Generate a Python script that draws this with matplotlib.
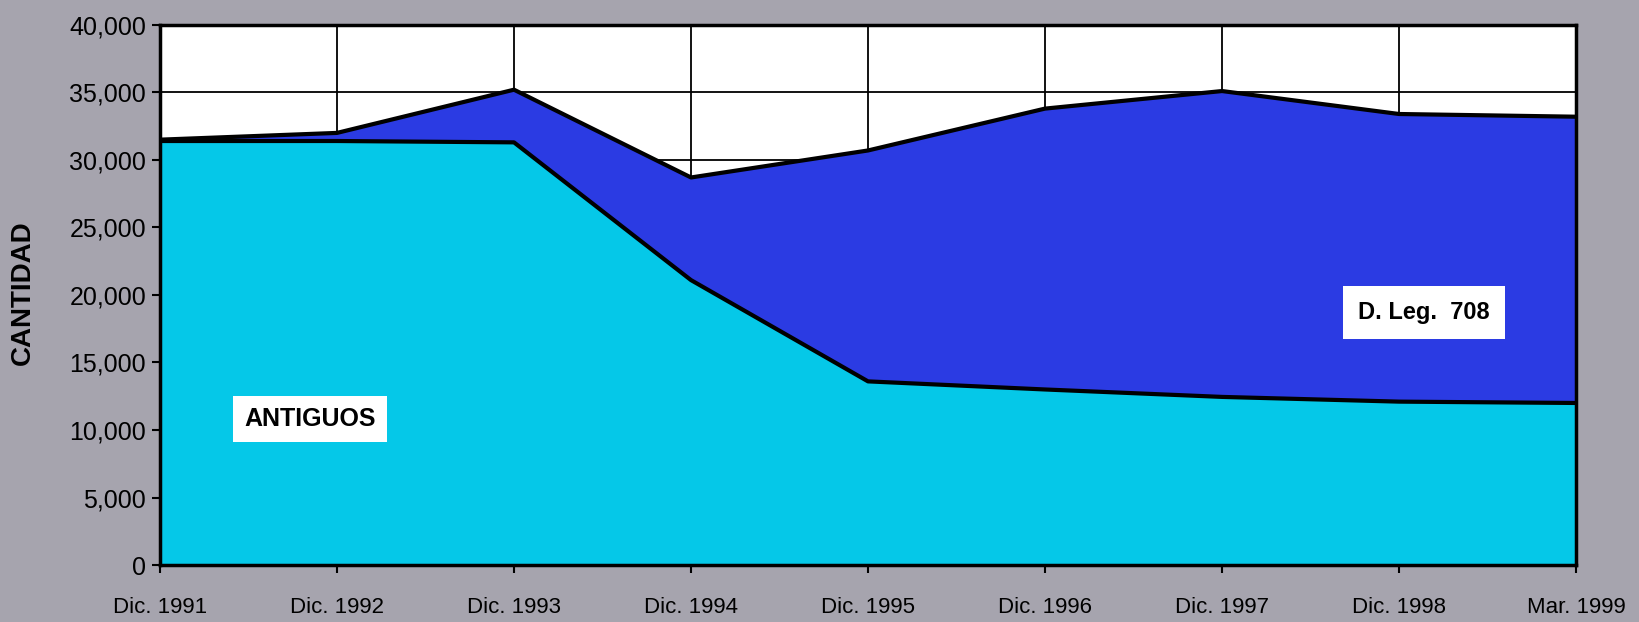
import matplotlib
matplotlib.use("Agg")
import matplotlib.pyplot as plt
import numpy as np

categories = ["Dic. 1991", "Dic. 1992", "Dic. 1993", "Dic. 1994", "Dic. 1995",
              "Dic. 1996", "Dic. 1997", "Dic. 1998", "Mar. 1999"]
antiguos = [31400, 31400, 31300, 21100, 13600, 13000, 12450, 12100, 12000]
dleg708 = [100, 600, 3900, 7600, 17100, 20800, 22650, 21300, 21200]
yticks = [0, 5000, 10000, 15000, 20000, 25000, 30000, 35000, 40000]

plt.rcParams['font.family'] = ['Liberation Sans', 'DejaVu Sans']

fig = plt.figure(figsize=(16.39, 6.22), dpi=100)
fig.patch.set_facecolor('#A6A4AE')
ax = fig.add_axes([0.0976, 0.0916, 0.8640, 0.8684])
ax.set_facecolor('white')

x = np.arange(len(categories))
total = np.array(antiguos) + np.array(dleg708)

ax.stackplot(x, antiguos, dleg708, colors=['#05C8E8', '#2B3BE3'], zorder=2)
ax.plot(x, antiguos, color='black', lw=3, zorder=3)
ax.plot(x, total, color='black', lw=3, zorder=3)

ax.set_xlim(0, len(categories) - 1)
ax.set_ylim(0, 40000)
ax.set_xticks(x)
ax.set_xticklabels(categories)
ax.set_yticks(yticks)
ax.set_yticklabels([f"{v:,}" for v in yticks])
ax.grid(True, color='black', lw=1.3, zorder=1)
ax.set_axisbelow(True)

for s in ax.spines.values():
    s.set_linewidth(2.5)
    s.set_color('black')
    s.set_zorder(4)

ax.tick_params(axis='both', direction='out', length=6, width=1.5, colors='black')
ax.tick_params(axis='x', pad=17, labelsize=16)
ax.tick_params(axis='y', pad=4, labelsize=18)

fig.text(0.014, 0.529, "CANTIDAD", fontsize=20, fontweight='bold', rotation=90,
         ha='center', va='center')

ax.text(0.85, 10800, "ANTIGUOS", fontsize=18, fontweight='bold', ha='center',
        va='center', zorder=5,
        bbox=dict(boxstyle='square,pad=0.45', facecolor='white', edgecolor='none'))
ax.text(7.14, 18700, "D. Leg.  708", fontsize=17, fontweight='bold', ha='center',
        va='center', zorder=5,
        bbox=dict(boxstyle='square,pad=0.65', facecolor='white', edgecolor='none'))

fig.savefig("out.png", dpi=100, facecolor=fig.get_facecolor())
